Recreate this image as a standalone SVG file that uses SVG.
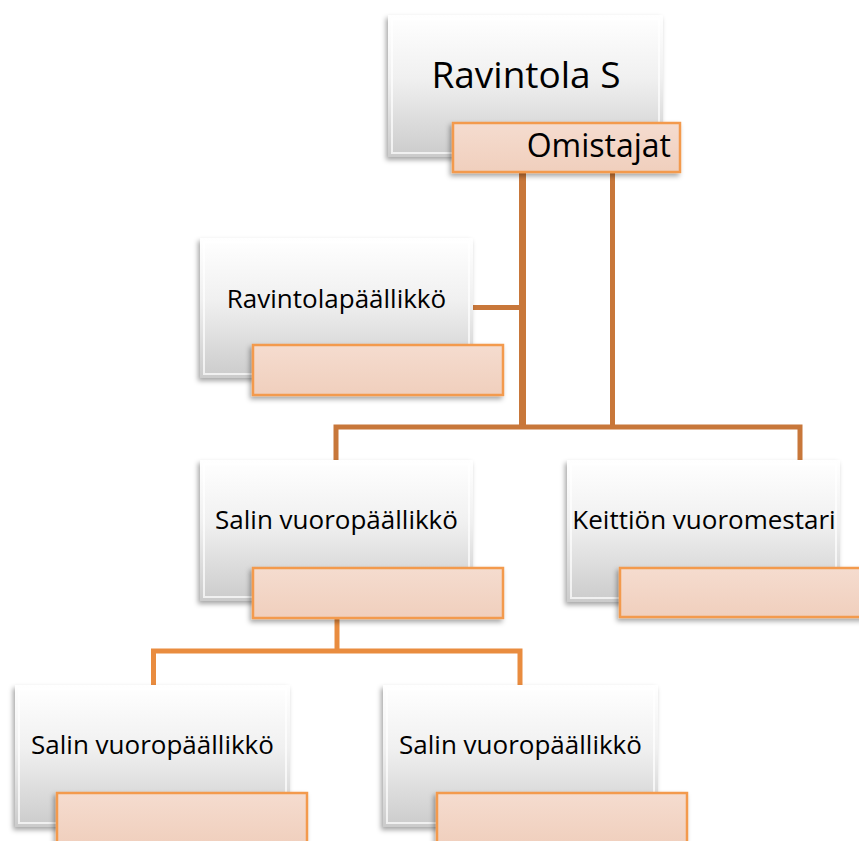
<svg xmlns="http://www.w3.org/2000/svg" width="859" height="841" viewBox="0 0 859 841">
<defs>
<linearGradient id="gGray" x1="0" y1="0" x2="0" y2="1">
<stop offset="0" stop-color="#ffffff"/>
<stop offset="0.45" stop-color="#f0f0f0"/>
<stop offset="1" stop-color="#cbcbcb"/>
</linearGradient>
<linearGradient id="gOr" x1="0" y1="0" x2="0" y2="1">
<stop offset="0" stop-color="#f5dccf"/>
<stop offset="1" stop-color="#f0cfbd"/>
</linearGradient>
<filter id="sh" x="-10%" y="-10%" width="125%" height="130%">
<feDropShadow dx="-2" dy="3" stdDeviation="2.5" flood-color="#000" flood-opacity="0.35"/>
</filter>
</defs>
<style>
.box{fill:url(#gGray);filter:url(#sh)}
.bev{fill:none;stroke:#ffffff;stroke-opacity:0.7;stroke-width:2}
.obox{fill:url(#gOr);stroke:#f39a4e;stroke-width:2.5;filter:url(#sh)}
.t{font-family:"Open Sans","Liberation Sans",sans-serif;fill:#000;text-anchor:middle}
.c1{fill:none;stroke:#c8773a;stroke-width:5}
.c2{fill:none;stroke:#e98c3f;stroke-width:5}
</style>
<g id="connectors">
<path class="c1" d="M522.5,172 V427" style="stroke-width:7"/>
<path class="c1" d="M612.5,172 V427"/>
<path class="c1" d="M473,307.5 H522"/>
<path class="c1" d="M336,460 V427 H800 V460"/>
<path class="c2" d="M337,617 V651"/>
<path class="c2" d="M153.5,685 V651 H520 V685"/>
</g>
<g id="n-ravintola">
<rect class="box" x="388" y="15" width="275" height="142"/>
<rect class="bev" x="392" y="19" width="267" height="134"/>
<text class="t" x="526" y="88" font-size="37">Ravintola S</text>
<rect class="obox" x="453" y="123" width="227" height="49"/>
<text class="t" x="671" y="157" font-size="32" style="text-anchor:end">Omistajat</text>
</g>
<g id="n-ravintolapaallikko">
<rect class="box" x="200" y="238" width="273" height="140"/>
<rect class="bev" x="204" y="242" width="265" height="132"/>
<text class="t" x="336.5" y="308" font-size="26">Ravintolapäällikkö</text>
<rect class="obox" x="253" y="345" width="250" height="50"/>
</g>
<g id="n-salin-mid">
<rect class="box" x="200" y="460" width="273" height="141"/>
<rect class="bev" x="204" y="464" width="265" height="133"/>
<text class="t" x="336.5" y="529" font-size="26">Salin vuoropäällikkö</text>
<rect class="obox" x="253" y="568" width="250" height="50"/>
</g>
<g id="n-keittio">
<rect class="box" x="567" y="460" width="273" height="142"/>
<rect class="bev" x="571" y="464" width="265" height="134"/>
<text class="t" x="704" y="529" font-size="26">Keittiön vuoromestari</text>
<rect class="obox" x="620" y="568" width="250" height="49"/>
</g>
<g id="n-salin-left">
<rect class="box" x="15" y="685" width="275" height="142"/>
<rect class="bev" x="19" y="689" width="267" height="134"/>
<text class="t" x="152.5" y="754" font-size="26">Salin vuoropäällikkö</text>
<rect class="obox" x="57" y="793" width="250" height="52"/>
</g>
<g id="n-salin-right">
<rect class="box" x="383" y="685" width="275" height="142"/>
<rect class="bev" x="387" y="689" width="267" height="134"/>
<text class="t" x="520.5" y="754" font-size="26">Salin vuoropäällikkö</text>
<rect class="obox" x="437" y="793" width="250" height="52"/>
</g>
</svg>
